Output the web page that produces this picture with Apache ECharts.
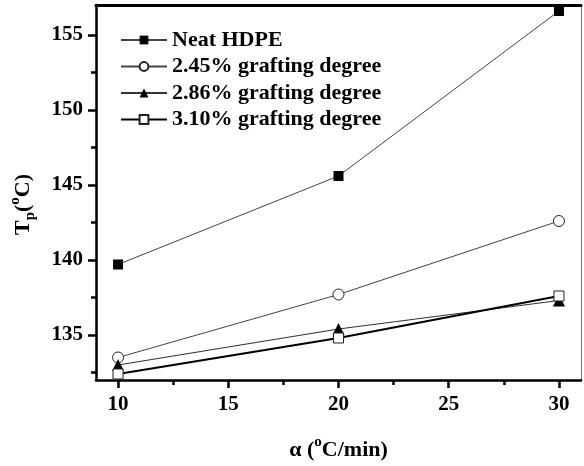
<!DOCTYPE html>
<html>
<head>
<meta charset="utf-8">
<script src="https://cdn.jsdelivr.net/npm/echarts@6/dist/echarts.min.js"></script>
<style>html,body{margin:0;padding:0;background:#fff}#c{width:584px;height:466px}</style>
</head>
<body>
<div id="c"></div>
<script>
var rates = [10, 20, 30];
var neatHDPE = [139.7, 145.6, 156.6];
var graft245 = [133.5, 137.7, 142.6];
var graft286 = [133.0, 135.4, 137.3];
var graft310 = [132.4, 134.8, 137.6];
var seriesNames = ['Neat HDPE', '2.45% grafting degree', '2.86% grafting degree', '3.10% grafting degree'];
var xMajorTicks = [10, 15, 20, 25, 30];
var xMinorTicks = [12.5, 17.5, 22.5, 27.5];
var yMajorTicks = [135, 140, 145, 150, 155];
var yMinorTicks = [132.5, 137.5, 142.5, 147.5, 152.5];

var FONT = '"Liberation Serif", "Times New Roman", serif';
function pairs(ys){ return rates.map(function(x,i){ return [x, ys[i]]; }); }

var chart = echarts.init(document.getElementById('c'), null, {renderer:'canvas'});
var baseX = {type:'value', min:9, max:31, splitLine:{show:false}};
var baseY = {type:'value', min:132, max:157, splitLine:{show:false}};
function ext(a,b){ var o={}; for(var k in a)o[k]=a[k]; for(var k2 in b)o[k2]=b[k2]; return o; }

var big = {fontSize:22, fontWeight:'bold', fontFamily:FONT, color:'#000', lineHeight:30, verticalAlign:'middle'};
var sub = {fontSize:15, fontWeight:'bold', fontFamily:FONT, color:'#000', lineHeight:14, verticalAlign:'bottom'};
var sup = {fontSize:15, fontWeight:'bold', fontFamily:FONT, color:'#000', lineHeight:14, verticalAlign:'top'};

chart.setOption({
  animation:false,
  backgroundColor:'#fff',
  grid:{left:92, right:3, top:5, bottom:81, containLabel:false},
  legend:{
    orient:'vertical', left:115, top:24, itemWidth:46, itemHeight:11, itemGap:4.5,
    data:seriesNames,
    textStyle:{fontSize:22, fontWeight:'bold', fontFamily:FONT, color:'#000', lineHeight:22}
  },
  xAxis:[
    ext(baseX,{position:'bottom',
      axisLine:{onZero:false, lineStyle:{color:'#000', width:2.5}},
      axisTick:{customValues:xMajorTicks, length:8, lineStyle:{color:'#000', width:2.5}},
      axisLabel:{customValues:xMajorTicks, margin:14, fontSize:21, fontWeight:'bold', fontFamily:FONT, color:'#000'},
      name:'{b|α (}{p|o}{b|C/min)}', nameLocation:'middle', nameGap:55,
      nameTextStyle:{rich:{b:big, p:sup}}
    }),
    ext(baseX,{position:'bottom',
      axisLine:{show:false, onZero:false},
      axisTick:{customValues:xMinorTicks, length:5, lineStyle:{color:'#000', width:2.5}},
      axisLabel:{show:false}
    }),
    ext(baseX,{position:'top',
      axisLine:{onZero:false, lineStyle:{color:'#000', width:3}},
      axisTick:{show:false}, axisLabel:{show:false}
    })
  ],
  yAxis:[
    ext(baseY,{position:'left',
      axisLine:{onZero:false, lineStyle:{color:'#000', width:2.5}},
      axisTick:{customValues:yMajorTicks, length:8, lineStyle:{color:'#000', width:2.5}},
      axisLabel:{customValues:yMajorTicks, margin:13, fontSize:21, fontWeight:'bold', fontFamily:FONT, color:'#000'},
      name:'{b|T}{s|p}{b|(}{p|o}{b|C)}', nameLocation:'middle', nameGap:58, nameRotate:90,
      nameTextStyle:{padding:[0,24,0,0], rich:{b:big, s:sub, p:sup}}
    }),
    ext(baseY,{position:'left',
      axisLine:{show:false, onZero:false},
      axisTick:{customValues:yMinorTicks, length:5, lineStyle:{color:'#000', width:2.5}},
      axisLabel:{show:false}
    }),
    ext(baseY,{position:'right',
      axisLine:{onZero:false, lineStyle:{color:'#777', width:1}},
      axisTick:{show:false}, axisLabel:{show:false}
    })
  ],
  series:[
    {name:seriesNames[0], type:'line', data:pairs(neatHDPE), symbol:'rect', symbolSize:10,
      lineStyle:{color:'#444', width:1}, itemStyle:{color:'#000', borderColor:'#000', borderWidth:0}},
    {name:seriesNames[1], type:'line', data:pairs(graft245), symbol:'circle', symbolSize:11,
      lineStyle:{color:'#444', width:1}, itemStyle:{color:'#fff', borderColor:'#222', borderWidth:1}},
    {name:seriesNames[2], type:'line', data:pairs(graft286), symbol:'triangle', symbolSize:12,
      lineStyle:{color:'#333', width:1.2}, itemStyle:{color:'#000', borderColor:'#000', borderWidth:0}},
    {name:seriesNames[3], type:'line', data:pairs(graft310), symbol:'rect', symbolSize:10,
      lineStyle:{color:'#000', width:2}, itemStyle:{color:'#fff', borderColor:'#222', borderWidth:1}}
  ]
});
</script>
</body>
</html>
